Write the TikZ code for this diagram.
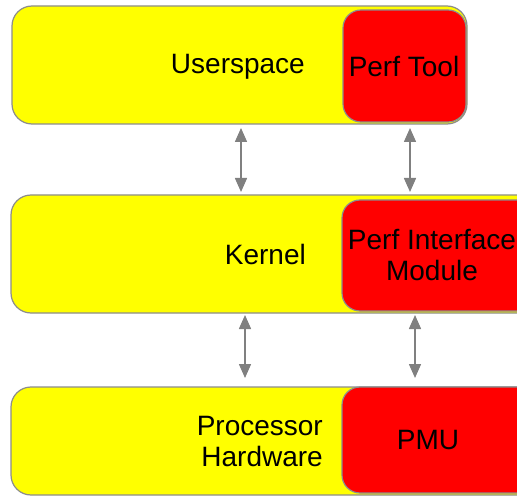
\documentclass[tikz,border=0pt]{standalone}
\usepackage{fontspec}
\setmainfont{Liberation Sans}
\usetikzlibrary{arrows.meta}
\definecolor{bordergray}{HTML}{8C8C8C}
\definecolor{arrowgray}{HTML}{808080}
\definecolor{lyellow}{HTML}{FFFF00}
\definecolor{lred}{HTML}{FF0000}
\begin{document}
\begin{tikzpicture}[x=1pt,y=-1pt,
  layer/.style={draw=bordergray,line width=1.2pt,fill=lyellow,rounded corners=20pt},
  part/.style={draw=bordergray,line width=1.2pt,fill=lred,rounded corners=18pt},
  lbl/.style={font=\fontsize{28}{31}\selectfont,inner sep=0pt},
  link/.style={draw=arrowgray,line width=1.5pt,{Triangle[width=12pt,length=14pt]}-{Triangle[width=12pt,length=14pt]}}]
\useasboundingbox (0,0) rectangle (517,497);
\begin{scope}
\clip (0,0) rectangle (517,497);
% rows
\draw[layer] (12,6) rectangle (467,124);
\draw[part] (343,10) rectangle (466,122);
\draw[layer] (11,195) rectangle (540,313);
\draw[part] (342,200) rectangle (540,311);
\draw[layer] (11,387) rectangle (540,495);
\draw[part] (342,387) rectangle (540,493);
\end{scope}
\coordinate (us) at (241,128);
\coordinate (ks) at (241,192);
\coordinate (ts) at (410,128);
\coordinate (ti) at (410,192);
\coordinate (kb) at (245,315);
\coordinate (ph) at (245,378);
\coordinate (ib) at (415,315);
\coordinate (pm) at (415,378);
\node[lbl,anchor=east] (user) at (305,67) {Userspace};
\node[lbl] (tool) at (404,66) {Perf Tool};
\node[lbl,anchor=east] (kern) at (306,254) {Kernel};
\node[lbl,align=center] (pim) at (432,255) {Perf Interface\\Module};
\node[lbl,align=right,anchor=east] (proc) at (323,442) {Processor\\Hardware};
\node[lbl] (pmu) at (428,440) {PMU};
\draw[link] (us) -- (ks);
\draw[link] (ts) -- (ti);
\draw[link] (kb) -- (ph);
\draw[link] (ib) -- (pm);
\end{tikzpicture}
\end{document}
